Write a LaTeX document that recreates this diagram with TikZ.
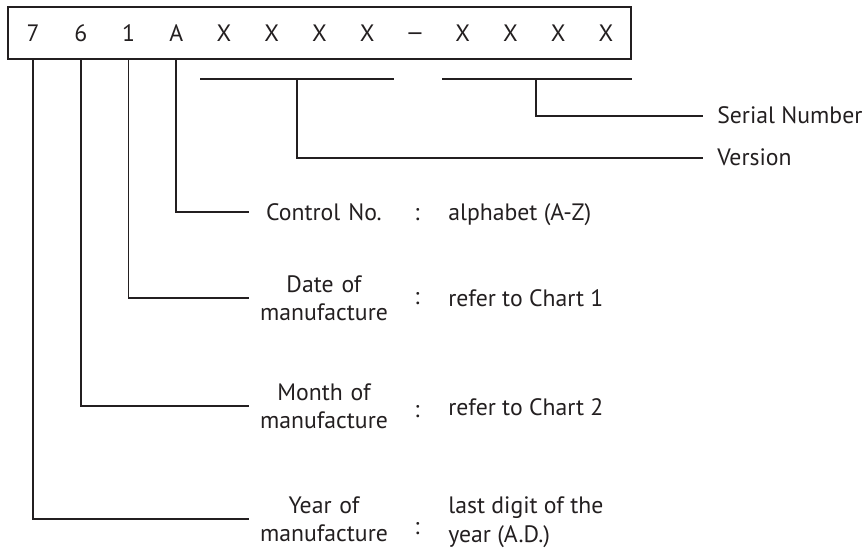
\documentclass[tikz,border=0pt]{standalone}
\usepackage{fontspec}
\setmainfont{PT Sans}
\usepackage{xcolor}
\usepackage{tikz}
\definecolor{ink}{RGB}{35,31,32}

\begin{document}
\begin{tikzpicture}[x=0.02cm, y=0.02cm]
    \tikzstyle{every node}+=[inner sep=0pt, text=ink, font=\fontsize{13.5}{16.1}\selectfont]
    \tikzstyle{wire}=[ink, line width=0.95pt]
    \tikzstyle{lbl}=[align=center, text width=3cm, anchor=base]
    \tikzstyle{tag}=[anchor=base west, inner xsep=0.28cm]
    \useasboundingbox (0,0) rectangle (866,-554);
    \draw [wire] (8,-7) rectangle (631,-59);
    \coordinate (boxsw) at (8,-59);
    \foreach \ch [count=\i from 0] in {7,6,1,A,X,X,X,X,{\raisebox{0.02cm}{\scalebox{1.3}[1]{–}}},X,X,X,X}
        \draw (33+47.75*\i,-42) node [anchor=base] (c\i) {\ch};
    \draw [wire] (200,-79) -- (394,-79);
    \draw [wire] (442,-79) -- (632,-79);
    \coordinate (verb) at (297,-79);
    \coordinate (serb) at (536,-79);
    \draw (703,-124) node [tag] (serial) {Serial Number};
    \draw (703,-166) node [tag] (version) {Version};
    \draw [wire] (serb) |- (serial.west);
    \draw [wire] (verb) |- (version.west);
    \draw (324,-220) node [lbl] (ctrl) {Control No.};
    \draw (417,-220) node [anchor=base] (ctrlsep) {:};
    \draw (448,-220) node [anchor=base west] (ctrlval) {alphabet (A-Z)};
    \draw (324,-292) node [lbl] (date) {Date of\\manufacture};
    \draw (417,-304) node [anchor=base] (datesep) {:};
    \draw (448,-306) node [anchor=base west] (dateval) {refer to Chart 1};
    \draw (324,-400) node [lbl] (month) {Month of\\manufacture};
    \draw (417,-417) node [anchor=base] (monthsep) {:};
    \draw (448,-415) node [anchor=base west] (monthval) {refer to Chart 2};
    \draw (324,-513) node [lbl] (year) {Year of\\manufacture};
    \draw (417,-534) node [anchor=base] (yearsep) {:};
    \draw (448,-542) node [anchor=base west, align=left] (yearval) {last digit of the\\year (A.D.)};
    \draw [wire] (c3 |- boxsw) |- (ctrl.west);
    \draw [wire] (c2 |- boxsw) |- (date.west);
    \draw [wire] (c1 |- boxsw) |- (month.west);
    \draw [wire] (c0 |- boxsw) |- (year.west);
\end{tikzpicture}
\end{document}
